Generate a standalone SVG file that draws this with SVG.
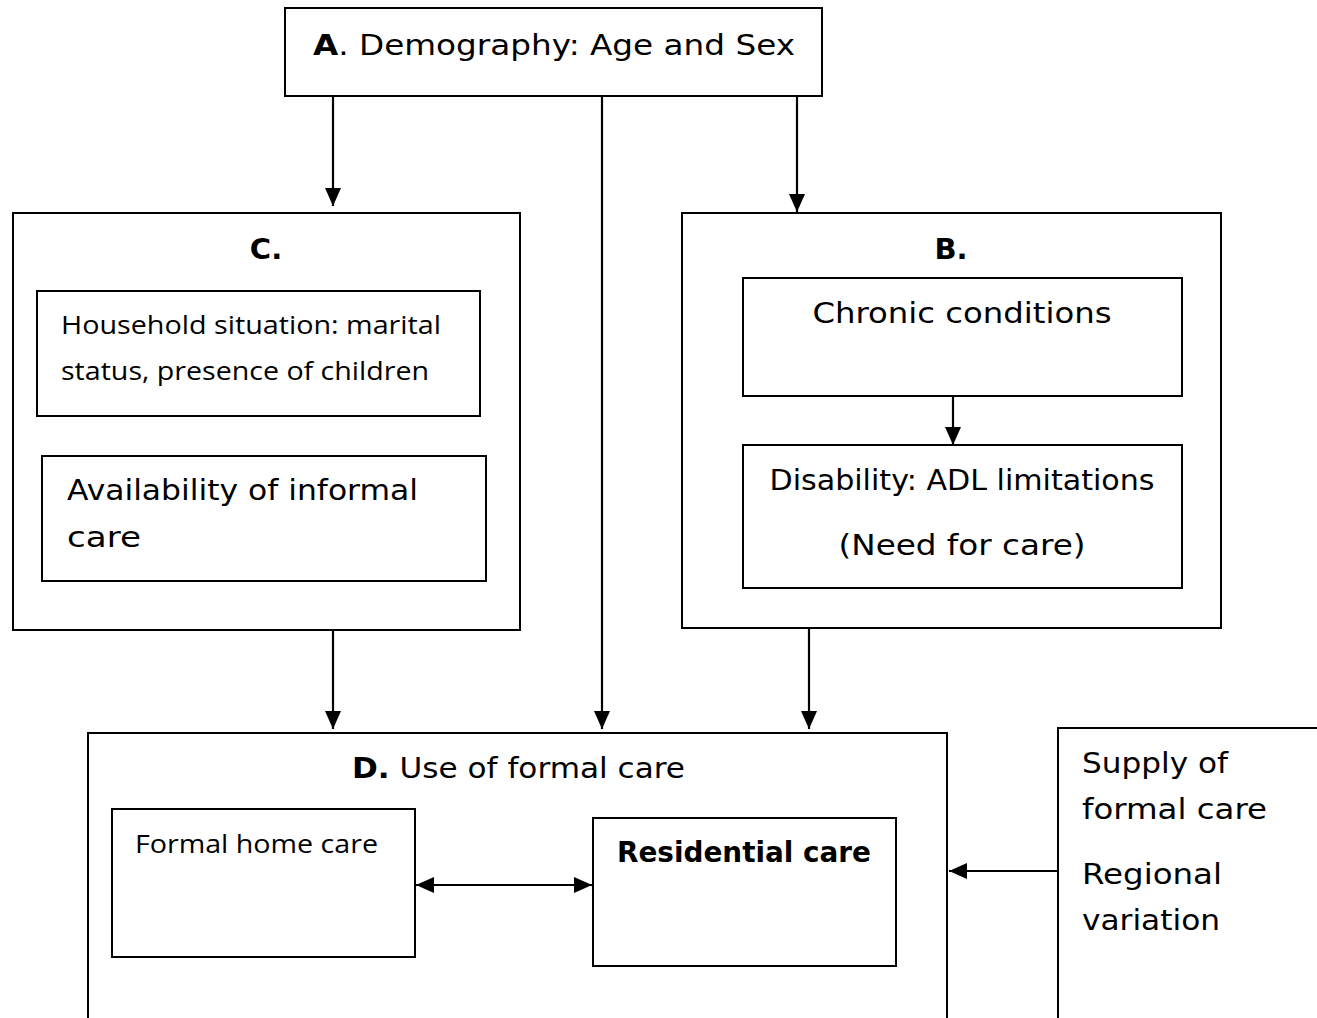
<svg xmlns="http://www.w3.org/2000/svg" width="1317" height="1018" viewBox="0 0 1317 1018">
<style>
.box{fill:#fff;stroke:#000;stroke-width:2}
.open{fill:none;stroke:#000;stroke-width:2}
.cg{font-family:"DejaVu Sans","Liberation Sans",sans-serif;font-size:29px;fill:#000}
.cal{font-family:"Open Sans","Liberation Sans",sans-serif;font-size:25px;fill:#000}
.b{font-weight:bold}
.conn{stroke:#000;stroke-width:2.2;fill:none}
</style>
<defs>
<marker id="ah" viewBox="0 0 18 16" refX="18" refY="8" markerWidth="18" markerHeight="16" markerUnits="userSpaceOnUse" orient="auto-start-reverse">
<path d="M0,0 L18,8 L0,16 z" fill="#000"/>
</marker>
</defs>
<rect width="1317" height="1018" fill="#fff"/>
<g id="nodeA">
<rect class="box" x="285" y="8" width="537" height="88"/>
<text class="cg" x="313" y="55" textLength="482" lengthAdjust="spacingAndGlyphs"><tspan class="b">A</tspan>. Demography: Age and Sex</text>
</g>
<g id="nodeC">
<rect class="box" x="13" y="213" width="507" height="417"/>
<text class="cg b" x="266" y="259" text-anchor="middle">C.</text>
</g>
<g id="nodeHousehold">
<rect class="box" x="37" y="291" width="443" height="125"/>
<text class="cal" x="61" y="334" textLength="380" lengthAdjust="spacingAndGlyphs">Household situation: marital</text>
<text class="cal" x="61" y="380" textLength="368" lengthAdjust="spacingAndGlyphs">status, presence of children</text>
</g>
<g id="nodeInformal">
<rect class="box" x="42" y="456" width="444" height="125"/>
<text class="cg" x="67" y="500" textLength="351" lengthAdjust="spacingAndGlyphs">Availability of informal</text>
<text class="cg" x="67" y="547" textLength="74" lengthAdjust="spacingAndGlyphs">care</text>
</g>
<g id="nodeB">
<rect class="box" x="682" y="213" width="539" height="415"/>
<text class="cg b" x="951" y="259" text-anchor="middle">B.</text>
</g>
<g id="nodeChronic">
<rect class="box" x="743" y="278" width="439" height="118"/>
<text class="cg" x="962" y="323" text-anchor="middle" textLength="299" lengthAdjust="spacingAndGlyphs">Chronic conditions</text>
</g>
<g id="nodeDisability">
<rect class="box" x="743" y="445" width="439" height="143"/>
<text class="cg" x="962" y="490" text-anchor="middle" textLength="385" lengthAdjust="spacingAndGlyphs">Disability: ADL limitations</text>
<text class="cg" x="962" y="555" text-anchor="middle" textLength="247" lengthAdjust="spacingAndGlyphs">(Need for care)</text>
</g>
<g id="nodeD">
<path class="open" d="M88,1020 V733 H947 V1020"/>
<text class="cg" x="352" y="778" textLength="333" lengthAdjust="spacingAndGlyphs"><tspan class="b">D.</tspan> Use of formal care</text>
</g>
<g id="nodeHome">
<rect class="box" x="112" y="809" width="303" height="148"/>
<text class="cal" x="135" y="853" textLength="243" lengthAdjust="spacingAndGlyphs">Formal home care</text>
</g>
<g id="nodeResidential">
<rect class="box" x="593" y="818" width="303" height="148"/>
<text class="cg b" x="617" y="862" textLength="254" lengthAdjust="spacingAndGlyphs">Residential care</text>
</g>
<g id="nodeSupply">
<path class="open" d="M1058,1020 V728 H1320"/>
<text class="cg" x="1082" y="773" textLength="146" lengthAdjust="spacingAndGlyphs">Supply of</text>
<text class="cg" x="1082" y="819" textLength="185" lengthAdjust="spacingAndGlyphs">formal care</text>
<text class="cg" x="1082" y="884" textLength="140" lengthAdjust="spacingAndGlyphs">Regional</text>
<text class="cg" x="1082" y="930" textLength="138" lengthAdjust="spacingAndGlyphs">variation</text>
</g>
<g id="connectors">
<path class="conn" d="M333,97 V206" marker-end="url(#ah)"/>
<path class="conn" d="M602,97 V729" marker-end="url(#ah)"/>
<path class="conn" d="M797,97 V212" marker-end="url(#ah)"/>
<path class="conn" d="M333,631 V729" marker-end="url(#ah)"/>
<path class="conn" d="M809,629 V729" marker-end="url(#ah)"/>
<path class="conn" d="M953,397 V445" marker-end="url(#ah)"/>
<path class="conn" d="M416,885 H592" marker-start="url(#ah)" marker-end="url(#ah)"/>
<path class="conn" d="M1057,871 H949" marker-end="url(#ah)"/>
</g>
</svg>
